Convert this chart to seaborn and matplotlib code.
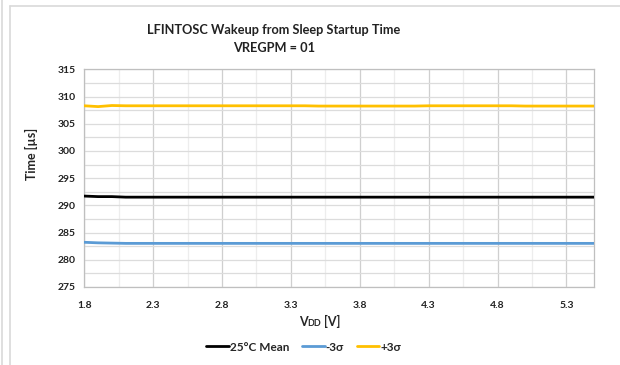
import pandas as pd
import matplotlib
matplotlib.use("Agg")
import matplotlib.pyplot as plt
from matplotlib.lines import Line2D
from matplotlib.ticker import MultipleLocator
import seaborn as sns

sns.set_style("white")
plt.rcParams['font.family'] = ['Lato', 'DejaVu Sans']

# data
vdd = [1.8, 1.9, 2.0, 2.1, 2.2, 2.3, 2.4, 2.5, 2.6, 2.7, 2.8, 2.9, 3.0, 3.1,
       3.2, 3.3, 3.4, 3.5, 3.6, 3.7, 3.8, 3.9, 4.0, 4.1, 4.2, 4.3, 4.4, 4.5,
       4.6, 4.7, 4.8, 4.9, 5.0, 5.1, 5.2, 5.3, 5.4, 5.5]
mean_25c = [291.7, 291.6, 291.6, 291.5, 291.5, 291.5, 291.5, 291.5, 291.5, 291.5,
            291.5, 291.5, 291.5, 291.5, 291.5, 291.5, 291.5, 291.5, 291.5, 291.5,
            291.5, 291.5, 291.5, 291.5, 291.5, 291.5, 291.5, 291.5, 291.5, 291.5,
            291.5, 291.5, 291.5, 291.5, 291.5, 291.5, 291.5, 291.5]
minus_3s = [283.2, 283.1, 283.05, 283.0, 283.0, 283.0, 283.0, 283.0, 283.0, 283.0,
            283.0, 283.0, 283.0, 283.0, 283.0, 283.0, 283.0, 283.0, 283.0, 283.0,
            283.0, 283.0, 283.0, 283.0, 283.0, 283.0, 283.0, 283.0, 283.0, 283.0,
            283.0, 283.0, 283.0, 283.0, 283.0, 283.0, 283.0, 283.0]
plus_3s = [308.3, 308.15, 308.35, 308.3, 308.3, 308.3, 308.3, 308.3, 308.3, 308.3,
           308.3, 308.3, 308.3, 308.3, 308.3, 308.3, 308.3, 308.25, 308.25, 308.25,
           308.25, 308.25, 308.25, 308.25, 308.25, 308.3, 308.3, 308.3, 308.3, 308.3,
           308.3, 308.3, 308.25, 308.25, 308.25, 308.25, 308.25, 308.25]
series_names = ["25°C Mean", "-3σ", "+3σ"]
series_colors = ["#000000", "#5b9bd5", "#ffc000"]
x_ticks = [1.8, 2.3, 2.8, 3.3, 3.8, 4.3, 4.8, 5.3]
x_minor = [2.05, 2.55, 3.05, 3.55, 4.05, 4.55, 5.05]

df = pd.DataFrame({"VDD": vdd * 3,
                   "Time": mean_25c + minus_3s + plus_3s,
                   "series": [s for s in series_names for _ in vdd]})

fig = plt.figure(figsize=(6.2, 3.65), dpi=100)
ax = fig.add_axes([0.136, 0.214, 0.822, 0.596])

sns.lineplot(data=df, x="VDD", y="Time", hue="series", hue_order=series_names,
             palette=series_colors, linewidth=2.0, ax=ax, legend=False, zorder=3)

ax.set_xlim(1.8, 5.5)
ax.set_ylim(275, 315)
ax.set_xticks(x_ticks)
ax.set_xticks(x_minor, minor=True)
ax.yaxis.set_major_locator(MultipleLocator(5))
ax.yaxis.set_minor_locator(MultipleLocator(2.5))
ax.grid(True, which="major", axis="x", color="#cfcfcf", linewidth=0.9)
ax.grid(True, which="minor", axis="x", color="#ededed", linewidth=0.9)
ax.grid(True, which="both", axis="y", color="#dcdcdc", linewidth=0.9)
ax.set_axisbelow(True)
for sp in ax.spines.values():
    sp.set_color("#bfbfbf")
    sp.set_linewidth(0.9)
ax.tick_params(which="both", length=0, labelsize=7.5, colors="#222222", pad=6)
ax.tick_params(axis="x", pad=10)
for lab in ax.get_xticklabels() + ax.get_yticklabels():
    lab.set_fontweight("bold")

ax.set_xlabel("")
ax.set_ylabel("Time [µs]", fontsize=9, fontweight="bold", labelpad=8)
ax.yaxis.set_label_coords(-0.09, 0.61)

# x label with small-caps DD
t1 = fig.text(0.496, 0.108, "V", fontsize=9, fontweight="bold", ha="right", va="baseline")
t2 = ax.annotate("DD", xy=(1, 0), xycoords=t1, fontsize=6.5, fontweight="bold",
                 ha="left", va="bottom")
ax.annotate(" [V]", xy=(1, 0), xycoords=t2, fontsize=9, fontweight="bold",
            ha="left", va="bottom")

fig.text(0.442, 0.918, "LFINTOSC Wakeup from Sleep Startup Time", ha="center", va="center",
         fontsize=9.2, fontweight="bold", color="#222222")
fig.text(0.442, 0.868, "VREGPM = 01", ha="center", va="center",
         fontsize=9.2, fontweight="bold", color="#222222")

handles = [Line2D([], [], color=c, linewidth=2.0) for c in series_colors]
fig.legend(handles, series_names, loc="center", bbox_to_anchor=(0.49, 0.049), ncol=3,
           frameon=False, prop={"weight": "bold", "size": 8.5}, handlelength=1.9,
           handletextpad=0.1, columnspacing=1.1)

# chart frame decoration
fig.add_artist(Line2D([0.003, 0.003], [0, 1], transform=fig.transFigure, color="#d9d9d9", linewidth=1.2))
fig.add_artist(Line2D([0.016, 0.016], [0, 0.984], transform=fig.transFigure, color="#d9d9d9", linewidth=1.2))
fig.add_artist(Line2D([0.016, 1], [0.984, 0.984], transform=fig.transFigure, color="#d9d9d9", linewidth=1.2))

fig.savefig("out.png", dpi=100)
